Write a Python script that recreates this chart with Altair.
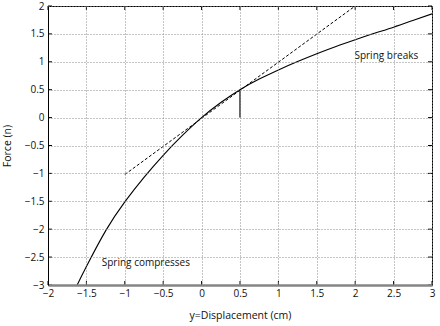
import altair as alt
import pandas as pd

# Force-displacement curve
disp_x = [-1.62, -1.5, -1.25, -1.0, -0.75, -0.5, -0.25, 0.0, 0.25, 0.5, 0.75,
          1.0, 1.25, 1.5, 1.75, 2.0, 2.25, 2.5, 2.75, 3.0]
force_y = [-3.0, -2.67, -2.03, -1.51, -1.07, -0.675, -0.32, 0.0, 0.27, 0.5, 0.69,
           0.855, 1.005, 1.145, 1.275, 1.395, 1.51, 1.62, 1.74, 1.86]

# Dashed linear approximation
lin_x = [-1.0, 2.0]
lin_y = [-1.02, 2.0]

# Vertical marker at y = 0.5
mark_x = [0.5, 0.5]
mark_y = [0.0, 0.5]

# Annotations
note_text = ["Spring breaks", "Spring compresses"]
note_x = [1.99, -1.30]
note_y = [1.10, -2.60]

# Axis ticks
x_ticks = [-2, -1.5, -1, -0.5, 0, 0.5, 1, 1.5, 2, 2.5, 3]
y_ticks = [-3, -2.5, -2, -1.5, -1, -0.5, 0, 0.5, 1, 1.5, 2]

FONT = "Open Sans"
W, H = 384, 279

curve_df = pd.DataFrame({"x": disp_x, "y": force_y})
lin_df = pd.DataFrame({"x": lin_x, "y": lin_y})
mark_df = pd.DataFrame({"x": mark_x, "y": mark_y})
note_df = pd.DataFrame({"text": note_text, "x": note_x, "y": note_y})
xt_df = pd.DataFrame({"x": x_ticks})
yt_df = pd.DataFrame({"y": y_ticks})

xscale = alt.Scale(domain=[-2, 3], nice=False, zero=False)
yscale = alt.Scale(domain=[-3, 2], nice=False, zero=False)

x_axis = alt.Axis(values=x_ticks, title="y=Displacement (cm)", tickSize=0,
                  labelPadding=3, titlePadding=12, labelOverlap=False,
                  labelFlush=False, domainColor="#858585", domainWidth=2.5,
                  format="~g", zindex=1)
y_axis = alt.Axis(values=y_ticks, title="Force (n)", tickSize=0,
                  labelPadding=4, titlePadding=12, labelOverlap=False,
                  labelFlush=False, domainColor="#000000", domainWidth=1,
                  format="~g", zindex=1)

curve = alt.Chart(curve_df).mark_line(
    color="black", strokeWidth=1.1, interpolate="natural", clip=True
).encode(x=alt.X("x:Q", scale=xscale, axis=x_axis),
         y=alt.Y("y:Q", scale=yscale, axis=y_axis), order="x:Q")

lin = alt.Chart(lin_df).mark_line(
    color="black", strokeWidth=1, strokeDash=[3, 2], clip=True
).encode(x=alt.X("x:Q", scale=xscale, axis=x_axis),
         y=alt.Y("y:Q", scale=yscale, axis=y_axis))

marker = alt.Chart(mark_df).mark_line(color="black", strokeWidth=1.2).encode(
    x=alt.X("x:Q", scale=xscale, axis=x_axis),
    y=alt.Y("y:Q", scale=yscale, axis=y_axis))

notes = alt.Chart(note_df).mark_text(
    align="left", baseline="middle", font=FONT, fontSize=10, color="#111111"
).encode(x=alt.X("x:Q", scale=xscale, axis=x_axis),
         y=alt.Y("y:Q", scale=yscale, axis=y_axis),
         text="text:N")

tick_bottom = alt.Chart(xt_df).mark_rule(color="black", strokeWidth=1).encode(
    x=alt.X("x:Q", scale=xscale, axis=x_axis), y=alt.value(H), y2=alt.value(H - 4))
tick_top = alt.Chart(xt_df).mark_rule(color="black", strokeWidth=1).encode(
    x=alt.X("x:Q", scale=xscale, axis=x_axis), y=alt.value(0), y2=alt.value(4))
tick_left = alt.Chart(yt_df).mark_rule(color="black", strokeWidth=1).encode(
    y=alt.Y("y:Q", scale=yscale, axis=y_axis), x=alt.value(0), x2=alt.value(4))
tick_right = alt.Chart(yt_df).mark_rule(color="black", strokeWidth=1).encode(
    y=alt.Y("y:Q", scale=yscale, axis=y_axis), x=alt.value(W), x2=alt.value(W - 4))

chart = alt.layer(
    curve, lin, marker, notes, tick_bottom, tick_top, tick_left, tick_right
).properties(
    width=W, height=H,
    autosize=alt.AutoSizeParams(type="none"),
    padding={"left": 48, "top": 6, "right": 8, "bottom": 41},
    background="white",
).configure_view(
    stroke="black", strokeWidth=1
).configure_axis(
    grid=True, gridColor="#8a8a8a", gridDash=[1, 2], gridWidth=1,
    labelOverlap=False, labelFlush=False,
    labelFont=FONT, labelFontSize=10, labelColor="#111111",
    titleFont=FONT, titleFontSize=10.5, titleFontWeight="normal",
    titleColor="#111111",
)

chart.save("out.html", embed_options={"renderer": "svg", "actions": False})
